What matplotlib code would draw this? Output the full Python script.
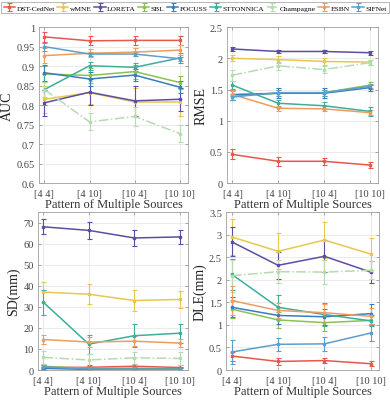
import numpy as np
import matplotlib
matplotlib.use('Agg')
import matplotlib.pyplot as plt

plt.rcParams['font.family'] = ['Liberation Serif', 'DejaVu Serif']

patterns = ['[4 4]', '[4 10]', '[10 4]', '[10 10]']
methods = ['DST-CedNet', 'wMNE', 'LORETA', 'SBL', 'FOCUSS', 'STTONNICA', 'Champagne', 'ESBN', 'SIFNet']
colors = ['#e8574c', '#e6c84e', '#5b4fa3', '#8cc152', '#3a7dbd', '#3fae98', '#b5dbb0', '#ee9d5f', '#5c9fcb']

# AUC
auc_mean = [[0.975, 0.965, 0.966, 0.966],
            [0.815, 0.832, 0.808, 0.808],
            [0.806, 0.833, 0.811, 0.815],
            [0.880, 0.876, 0.886, 0.858],
            [0.883, 0.867, 0.877, 0.846],
            [0.840, 0.901, 0.897, 0.921],
            [0.840, 0.757, 0.771, 0.727],
            [0.927, 0.933, 0.936, 0.941],
            [0.950, 0.931, 0.931, 0.919]]
auc_err = [[0.013, 0.012, 0.012, 0.011],
           [0.035, 0.030, 0.035, 0.035],
           [0.033, 0.033, 0.038, 0.030],
           [0.020, 0.018, 0.018, 0.016],
           [0.020, 0.017, 0.015, 0.015],
           [0.040, 0.010, 0.010, 0.012],
           [0.020, 0.022, 0.025, 0.022],
           [0.020, 0.010, 0.010, 0.012],
           [0.010, 0.006, 0.006, 0.005]]

# RMSE
rmse_mean = [[0.46, 0.35, 0.35, 0.29],
             [2.00, 1.98, 1.95, 1.94],
             [2.15, 2.11, 2.11, 2.09],
             [1.40, 1.44, 1.45, 1.57],
             [1.42, 1.44, 1.44, 1.53],
             [1.57, 1.28, 1.24, 1.15],
             [1.73, 1.88, 1.82, 1.93],
             [1.42, 1.20, 1.19, 1.13],
             [1.38, 1.45, 1.45, 1.55]]
rmse_err = [[0.08, 0.07, 0.06, 0.05],
            [0.05, 0.05, 0.05, 0.04],
            [0.03, 0.03, 0.03, 0.03],
            [0.07, 0.05, 0.05, 0.05],
            [0.08, 0.08, 0.08, 0.05],
            [0.06, 0.06, 0.06, 0.07],
            [0.09, 0.06, 0.05, 0.04],
            [0.08, 0.04, 0.04, 0.04],
            [0.05, 0.05, 0.05, 0.04]]

# SD
sd_mean = [[1.2, 1.3, 1.8, 1.2],
           [37.0, 36.0, 33.0, 33.5],
           [68.0, 66.3, 62.7, 63.2],
           [1.8, 0.8, 0.9, 0.6],
           [0.8, 0.3, 0.4, 0.3],
           [32.2, 12.3, 16.3, 17.5],
           [6.0, 4.8, 5.8, 5.5],
           [14.5, 13.3, 13.7, 12.8],
           [1.5, 0.5, 0.3, 0.3]]
sd_err = [[1.2, 1.2, 1.2, 1.0],
          [4.8, 4.8, 4.8, 4.2],
          [3.5, 4.0, 3.8, 3.5],
          [1.0, 1.0, 1.0, 1.0],
          [0.8, 0.8, 0.8, 0.8],
          [6.0, 4.5, 5.5, 4.5],
          [3.0, 3.0, 3.0, 3.0],
          [2.3, 2.5, 2.5, 2.0],
          [1.0, 1.0, 1.0, 1.0]]

# DLE
dle_mean = [[0.31, 0.19, 0.21, 0.14],
            [2.95, 2.63, 2.88, 2.57],
            [2.84, 2.32, 2.52, 2.17],
            [1.35, 1.11, 1.05, 1.10],
            [1.39, 1.21, 1.18, 1.25],
            [2.12, 1.39, 1.23, 1.09],
            [2.09, 2.18, 2.17, 2.21],
            [1.54, 1.32, 1.27, 1.19],
            [0.40, 0.57, 0.58, 0.82]]
dle_err = [[0.10, 0.08, 0.06, 0.06],
           [0.40, 0.40, 0.40, 0.36],
           [0.32, 0.30, 0.35, 0.25],
           [0.20, 0.18, 0.18, 0.10],
           [0.22, 0.18, 0.18, 0.22],
           [0.35, 0.28, 0.25, 0.12],
           [0.35, 0.25, 0.27, 0.20],
           [0.33, 0.17, 0.20, 0.18],
           [0.27, 0.15, 0.15, 0.17]]

panels = [
    (auc_mean, auc_err, 'AUC', (0.6, 1.0), np.arange(0.6, 1.001, 0.05), ['0.6', '0.65', '0.7', '0.75', '0.8', '0.85', '0.9', '0.95', '1']),
    (rmse_mean, rmse_err, 'RMSE', (0, 2.5), np.arange(0, 2.51, 0.5), ['0', '0.5', '1', '1.5', '2', '2.5']),
    (sd_mean, sd_err, 'SD(mm)', (0, 75), np.arange(0, 71, 10), None),
    (dle_mean, dle_err, 'DLE(mm)', (0, 3.5), np.arange(0, 3.51, 0.5), ['0', '0.5', '1', '1.5', '2', '2.5', '3', '3.5']),
]

rects = [[0.100, 0.542, 0.382, 0.388],
         [0.582, 0.542, 0.387, 0.388],
         [0.097, 0.077, 0.385, 0.393],
         [0.580, 0.077, 0.392, 0.393]]

fig = plt.figure(figsize=(3.9, 4.02), dpi=100)
x = np.arange(1, 5)
for k, (mean, err, ylab, ylim, yt, ytl) in enumerate(panels):
    ax = fig.add_axes(rects[k])
    for i, name in enumerate(methods):
        ls = '-.' if name == 'Champagne' else '-'
        ax.errorbar(x, mean[i], yerr=err[i], color=colors[i], lw=1.1, ls=ls,
                    capsize=1.8, capthick=0.8, elinewidth=0.8,
                    marker='s', ms=1.5, label=name)
    ax.set_xlim(0.88, 4.18)
    ax.set_ylim(*ylim)
    ax.set_yticks(yt)
    if ytl is not None:
        ax.set_yticklabels(ytl)
    ax.set_xticks(x)
    ax.set_xticklabels(patterns)
    ax.grid(True, color='#e8e8e8', lw=0.6)
    ax.set_axisbelow(True)
    for s in ax.spines.values():
        s.set_color('#a0a0a0')
        s.set_linewidth(0.6)
    ax.tick_params(direction='in', length=2.5, width=0.5, color='#888888',
                   labelsize=7.5, labelcolor='#444444', top=True, right=True)
    ax.tick_params(axis='x', pad=4)
    ax.tick_params(axis='y', pad=3)
    ax.set_ylabel(ylab, fontsize=10, labelpad=2, color='#222222')
    ax.set_xlabel('Pattern of Multiple Sources', fontsize=9, labelpad=0, color='#333333')
    if k == 0:
        handles, labels = ax.get_legend_handles_labels()

leg = fig.legend(handles, labels, loc='upper center', bbox_to_anchor=(0.5, 0.993),
                 ncol=9, fontsize=5.4, frameon=True, fancybox=False,
                 handlelength=1.5, handletextpad=0.2, columnspacing=0.32,
                 borderpad=0.35, borderaxespad=0)
leg.get_frame().set_edgecolor('#999999')
leg.get_frame().set_linewidth(0.6)

fig.savefig('out.png', dpi=100)
